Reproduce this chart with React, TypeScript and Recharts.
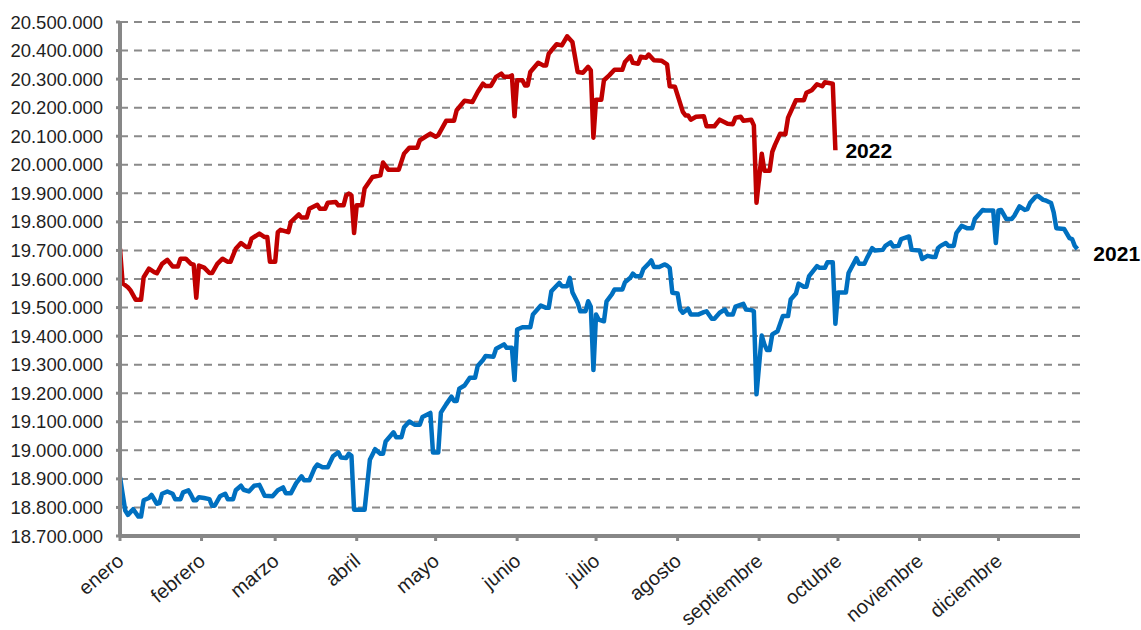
import { LineChart, Line, XAxis, YAxis, CartesianGrid, LabelList } from "recharts";

const days2022 = [
  0, 1, 3, 4, 6, 8, 9, 11, 13, 14, 16, 18, 20, 22, 23, 25, 27, 28, 29, 30, 32, 34, 35, 37, 39, 41, 42,
  44, 46, 48, 49, 50, 53, 55, 56, 57, 59, 60, 61, 64, 65, 68, 69, 71, 72, 75, 76, 78, 79, 82, 83, 85,
  86, 87, 88, 89, 90, 92, 93, 96, 99, 100, 102, 106, 108, 110, 113, 114, 118, 120, 121, 124, 127, 128,
  131, 134, 136, 138, 139, 141, 143, 145, 146, 148, 149, 150, 151, 153, 154, 155, 156, 159, 161, 162,
  163, 166, 168, 170, 172, 174, 176, 178, 179, 180, 181, 183, 184, 186, 188, 191, 192, 194, 195, 197,
  198, 200, 201, 203, 206, 208, 209, 211, 214, 215, 216, 217, 219, 222, 223, 226, 228, 231, 233, 234,
  236, 237, 240, 241, 242, 244, 245, 247, 248, 249, 251, 253, 254, 257, 260, 261, 263, 265, 267, 268,
  271, 272,
];
const values2022 = [
  19706000, 19585000, 19571000, 19560000, 19527000, 19527000, 19606000, 19636000, 19624000, 19620000,
  19653000, 19667000, 19644000, 19644000, 19671000, 19671000, 19653000, 19650000, 19534000, 19647000,
  19640000, 19621000, 19621000, 19653000, 19671000, 19660000, 19660000, 19706000, 19726000, 19712000,
  19712000, 19741000, 19759000, 19747000, 19747000, 19660000, 19660000, 19764000, 19772000, 19764000,
  19800000, 19826000, 19815000, 19815000, 19846000, 19860000, 19846000, 19846000, 19867000, 19870000,
  19858000, 19858000, 19893000, 19899000, 19893000, 19761000, 19858000, 19858000, 19917000, 19957000,
  19963000, 20008000, 19983000, 19983000, 20039000, 20060000, 20060000, 20086000, 20109000, 20098000,
  20104000, 20154000, 20154000, 20191000, 20224000, 20220000, 20255000, 20284000, 20276000, 20276000,
  20308000, 20319000, 20308000, 20308000, 20313000, 20170000, 20296000, 20296000, 20278000, 20278000,
  20325000, 20357000, 20348000, 20348000, 20389000, 20422000, 20418000, 20450000, 20430000, 20325000,
  20322000, 20343000, 20331000, 20095000, 20228000, 20228000, 20296000, 20313000, 20333000, 20333000,
  20360000, 20380000, 20357000, 20354000, 20378000, 20375000, 20386000, 20366000, 20364000, 20352000,
  20275000, 20273000, 20185000, 20173000, 20173000, 20158000, 20168000, 20170000, 20135000, 20135000,
  20158000, 20144000, 20142000, 20165000, 20168000, 20154000, 20158000, 20138000, 19867000, 20039000,
  19979000, 19979000, 20045000, 20069000, 20109000, 20107000, 20165000, 20226000, 20226000, 20252000,
  20261000, 20282000, 20275000, 20289000, 20284000, 20051000,
];

const days2021 = [
  0, 2, 3, 5, 7, 8, 9, 11, 12, 14, 15, 16, 18, 20, 21, 23, 24, 26, 27, 28, 29, 30, 32, 34, 35, 36, 38,
  40, 41, 43, 44, 46, 47, 49, 51, 53, 55, 58, 60, 62, 63, 65, 67, 69, 70, 72, 74, 75, 77, 79, 81, 83,
  84, 86, 87, 88, 89, 93, 95, 97, 99, 100, 101, 104, 105, 107, 108, 110, 112, 114, 115, 118, 119, 121,
  122, 124, 126, 127, 128, 129, 131, 133, 135, 136, 138, 139, 142, 143, 146, 147, 149, 150, 151, 153,
  156, 157, 160, 162, 163, 164, 167, 168, 170, 171, 172, 174, 175, 177, 178, 179, 180, 181, 182, 184,
  185, 187, 188, 191, 192, 194, 195, 196, 198, 199, 201, 202, 203, 205, 207, 208, 209, 210, 212, 213,
  214, 216, 217, 220, 222, 223, 225, 226, 228, 230, 231, 233, 234, 237, 238, 240, 241, 242, 244, 245,
  246, 247, 248, 250, 252, 254, 255, 257, 258, 260, 261, 262, 265, 266, 268, 269, 271, 272, 273, 276,
  277, 280, 281, 283, 284, 286, 287, 290, 291, 293, 294, 296, 297, 300, 301, 304, 305, 307, 309, 310,
  311, 312, 314, 315, 317, 318, 320, 322, 324, 325, 328, 329, 332, 333, 334, 335, 337, 339, 340, 342,
  344, 345, 346, 348, 349, 351, 352, 354, 355, 356, 359, 361, 362, 363, 364,
];
const values2021 = [
  18906000, 18789000, 18774000, 18794000, 18768000, 18768000, 18825000, 18833000, 18844000, 18813000,
  18815000, 18848000, 18856000, 18848000, 18829000, 18829000, 18853000, 18860000, 18844000, 18825000,
  18825000, 18836000, 18833000, 18829000, 18806000, 18806000, 18839000, 18848000, 18829000, 18829000,
  18860000, 18876000, 18862000, 18856000, 18876000, 18879000, 18841000, 18839000, 18860000, 18870000,
  18850000, 18850000, 18885000, 18909000, 18895000, 18895000, 18938000, 18950000, 18941000, 18941000,
  18979000, 18993000, 18975000, 18973000, 18988000, 18981000, 18792000, 18792000, 18967000, 19004000,
  18988000, 18988000, 19031000, 19063000, 19046000, 19046000, 19081000, 19101000, 19090000, 19090000,
  19117000, 19131000, 18992000, 18992000, 19132000, 19161000, 19188000, 19173000, 19173000, 19216000,
  19227000, 19254000, 19254000, 19295000, 19316000, 19330000, 19328000, 19356000, 19371000, 19359000,
  19359000, 19246000, 19423000, 19431000, 19431000, 19476000, 19507000, 19499000, 19499000, 19557000,
  19586000, 19575000, 19575000, 19604000, 19554000, 19517000, 19487000, 19487000, 19522000, 19503000,
  19281000, 19476000, 19458000, 19452000, 19522000, 19546000, 19563000, 19563000, 19589000, 19604000,
  19619000, 19610000, 19610000, 19635000, 19654000, 19665000, 19642000, 19642000, 19651000, 19647000,
  19639000, 19552000, 19549000, 19493000, 19482000, 19496000, 19476000, 19476000, 19484000, 19487000,
  19461000, 19461000, 19482000, 19493000, 19476000, 19476000, 19503000, 19513000, 19493000, 19491000,
  19487000, 19196000, 19402000, 19371000, 19351000, 19351000, 19406000, 19417000, 19470000, 19470000,
  19528000, 19549000, 19584000, 19573000, 19573000, 19610000, 19645000, 19639000, 19639000, 19659000,
  19659000, 19443000, 19553000, 19553000, 19621000, 19673000, 19653000, 19653000, 19673000, 19708000,
  19700000, 19702000, 19716000, 19728000, 19714000, 19716000, 19740000, 19749000, 19702000, 19700000,
  19670000, 19681000, 19677000, 19677000, 19708000, 19716000, 19726000, 19716000, 19716000, 19761000,
  19786000, 19778000, 19778000, 19810000, 19842000, 19840000, 19840000, 19726000, 19840000, 19842000,
  19810000, 19810000, 19821000, 19854000, 19842000, 19845000, 19866000, 19887000, 19891000, 19877000,
  19875000, 19866000, 19833000, 19778000, 19775000, 19743000, 19740000, 19716000, 19705000,
];

const monthStarts = [0, 31, 59, 90, 120, 151, 181, 212, 243, 273, 304, 334];
const monthNames = [
  "enero", "febrero", "marzo", "abril", "mayo", "junio",
  "julio", "agosto", "septiembre", "octubre", "noviembre", "diciembre",
];
const yTicks = [
  18700000, 18800000, 18900000, 19000000, 19100000, 19200000, 19300000, 19400000, 19500000, 19600000,
  19700000, 19800000, 19900000, 20000000, 20100000, 20200000, 20300000, 20400000, 20500000,
];

const FONT = '"Liberation Sans", Arial, sans-serif';
const AXIS_GREY = "#878787";

const series2021 = days2021.map((day, i) => ({ day, value: values2021[i] }));
const series2022 = days2022.map((day, i) => ({ day, value: values2022[i] }));

const fmtThousands = (v: number) => String(v).replace(/\B(?=(\d{3})+(?!\d))/g, ".");

function MonthTick({ x, y, payload }: any) {
  const idx = monthStarts.indexOf(payload.value);
  const tx = x + 5;
  const ty = y + 20;
  return (
    <text
      x={tx}
      y={ty}
      textAnchor="end"
      transform={`rotate(-40 ${tx} ${ty})`}
      fontSize={20}
      fontFamily={FONT}
      fill="#1f1f1f"
    >
      {monthNames[idx]}
    </text>
  );
}

// only the last point of a series gets the year label
const endLabel = (text: string, lastIndex: number, dx: number, dy: number) => (props: any) => {
  if (props.index !== lastIndex) return <g />;
  return (
    <text
      x={props.x + dx}
      y={props.y + dy}
      fontSize={21}
      fontWeight="bold"
      fontFamily={FONT}
      fill="#000"
    >
      {text}
    </text>
  );
};

export default function App() {
  // absolutely placed so the page never gets a scrollbar
  return (
    <div style={{ position: "absolute", left: 0, top: 0, width: 1141, height: 630, background: "#fff" }}>
      <LineChart width={1141} height={630} margin={{ top: 22, right: 61, bottom: 4, left: 0 }}>
        <CartesianGrid
          vertical={false}
          stroke="#8a8a8a"
          strokeWidth={2}
          strokeDasharray="8 6"
        />
        <XAxis
          type="number"
          dataKey="day"
          domain={[0, 365]}
          ticks={monthStarts}
          interval={0}
          height={90}
          axisLine={{ stroke: AXIS_GREY, strokeWidth: 4 }}
          tickLine={{ stroke: AXIS_GREY, strokeWidth: 3 }}
          tickSize={5}
          tick={<MonthTick />}
          allowDataOverflow
        />
        <YAxis
          type="number"
          domain={[18700000, 20500000]}
          ticks={yTicks}
          interval={0}
          width={120}
          axisLine={{ stroke: AXIS_GREY, strokeWidth: 4 }}
          tickLine={{ stroke: AXIS_GREY, strokeWidth: 3 }}
          tickSize={4}
          tickMargin={13}
          tickFormatter={fmtThousands}
          tick={{ fontSize: 18.5, fontFamily: FONT, fill: "#1f1f1f" }}
          allowDataOverflow
        />
        <Line
          data={series2021}
          dataKey="value"
          type="linear"
          stroke="#0070C0"
          strokeWidth={4.5}
          strokeLinejoin="round"
          dot={false}
          activeDot={false}
          isAnimationActive={false}
        >
          <LabelList content={endLabel("2021", series2021.length - 1, 16, 12)} />
        </Line>
        <Line
          data={series2022}
          dataKey="value"
          type="linear"
          stroke="#C00000"
          strokeWidth={4.5}
          strokeLinejoin="round"
          dot={false}
          activeDot={false}
          isAnimationActive={false}
        >
          <LabelList content={endLabel("2022", series2022.length - 1, 10, 8)} />
        </Line>
      </LineChart>
    </div>
  );
}
